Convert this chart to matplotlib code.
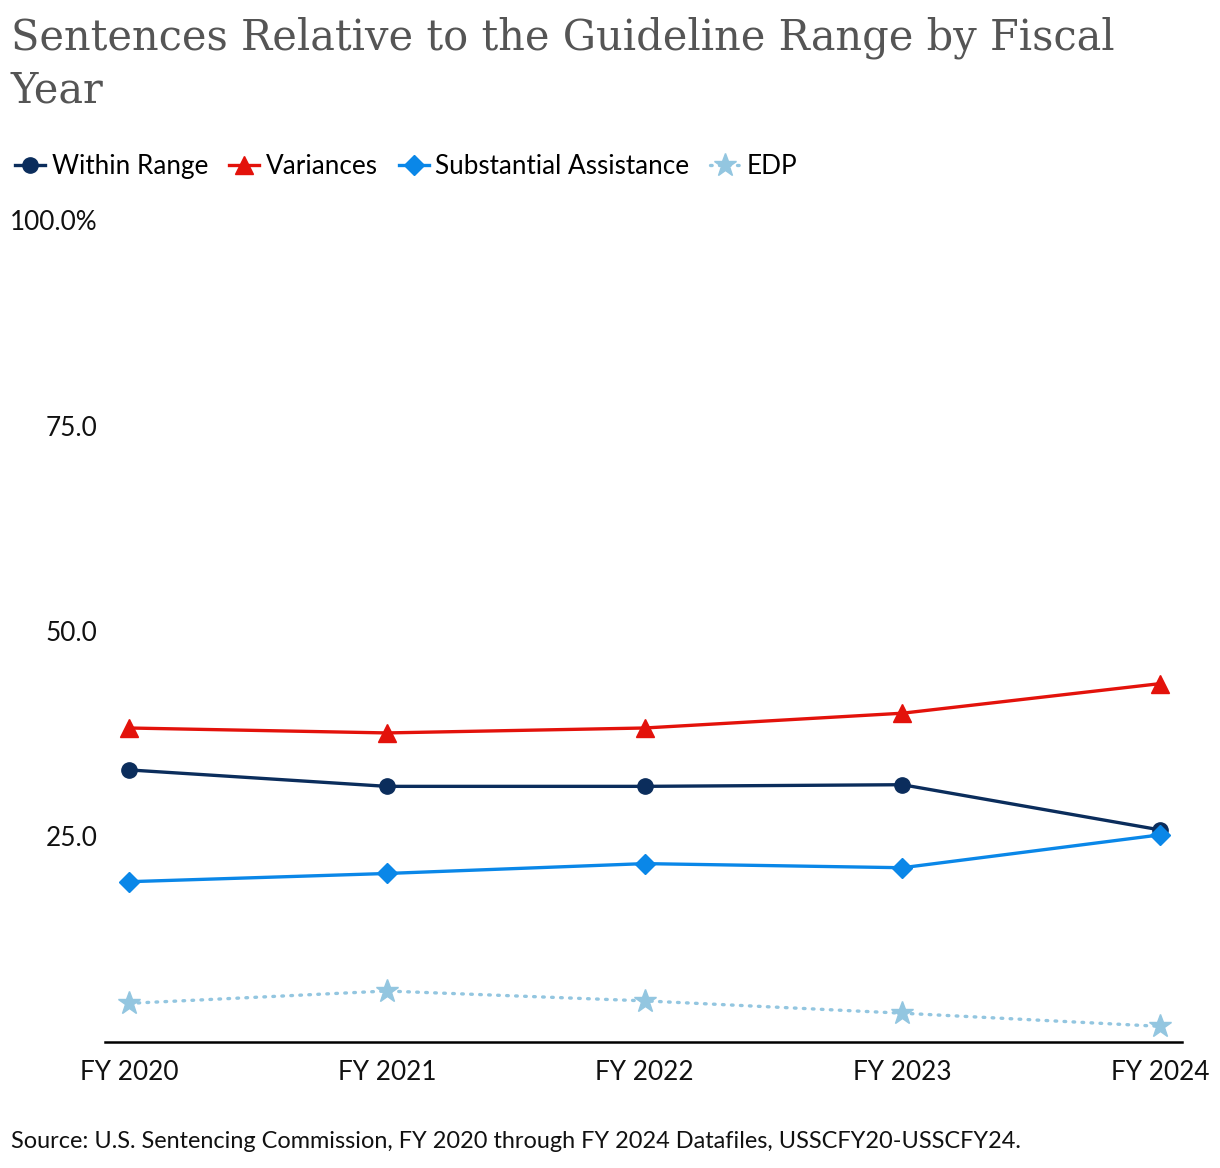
import matplotlib
matplotlib.use("Agg")
import matplotlib.pyplot as plt

years = ["FY 2020", "FY 2021", "FY 2022", "FY 2023", "FY 2024"]
within_range = [33.1, 31.1, 31.1, 31.3, 25.8]
variances = [38.2, 37.6, 38.2, 40.0, 43.6]
subst_assist = [19.5, 20.5, 21.7, 21.2, 25.2]
edp = [4.7, 6.2, 5.0, 3.5, 1.9]

yticks = [25, 50, 75, 100]
ytick_labels = ["25.0", "50.0", "75.0", "100.0%"]

plt.rcParams['font.family'] = ['Lato', 'DejaVu Sans']

fig = plt.figure(figsize=(12.2, 11.68), dpi=100)
ax = fig.add_axes([0.0861, 0.1079, 0.8828, 0.7037])

x = list(range(len(years)))
ax.plot(x, within_range, color="#0b2d5c", lw=2.4, marker="o", ms=11, label="Within Range")
ax.plot(x, variances, color="#e3120b", lw=2.4, marker="^", ms=13, label="Variances")
ax.plot(x, subst_assist, color="#0a87e8", lw=2.4, marker="D", ms=10, label="Substantial Assistance")
ax.plot(x, edp, color="#93c6e0", lw=2.4, ls=(0, (0.5, 2.2)), dash_capstyle="round",
        marker="*", ms=17, label="EDP")

ax.set_xlim(-0.093, 4.085)
ax.set_ylim(0, 100)
ax.set_xticks(x)
ax.set_xticklabels(years)
ax.set_yticks(yticks)
ax.set_yticklabels(ytick_labels)
ax.tick_params(axis="both", length=0, labelsize=18.8, colors="#111111")
ax.tick_params(axis="x", pad=13)
ax.tick_params(axis="y", pad=5.5)
for s in ["top", "right", "left"]:
    ax.spines[s].set_visible(False)
ax.spines["bottom"].set_linewidth(1.8)
ax.spines["bottom"].set_color("#000000")

fig.text(0.009, 0.986, "Sentences Relative to the Guideline Range by Fiscal\nYear",
         family="DejaVu Serif", fontsize=29.9, color="#555555", va="top", ha="left",
         linespacing=1.32)

leg = fig.legend(loc="upper left", bbox_to_anchor=(0.004, 0.877), ncol=4, frameon=False,
                 fontsize=18.8, handlelength=1.15, handletextpad=0.25, columnspacing=0.8,
                 borderaxespad=0)

fig.text(0.009, 0.017, "Source: U.S. Sentencing Commission, FY 2020 through FY 2024 Datafiles, USSCFY20-USSCFY24.",
         fontsize=16.9, color="#111111", ha="left", va="baseline")

fig.savefig("out.png", dpi=100)
